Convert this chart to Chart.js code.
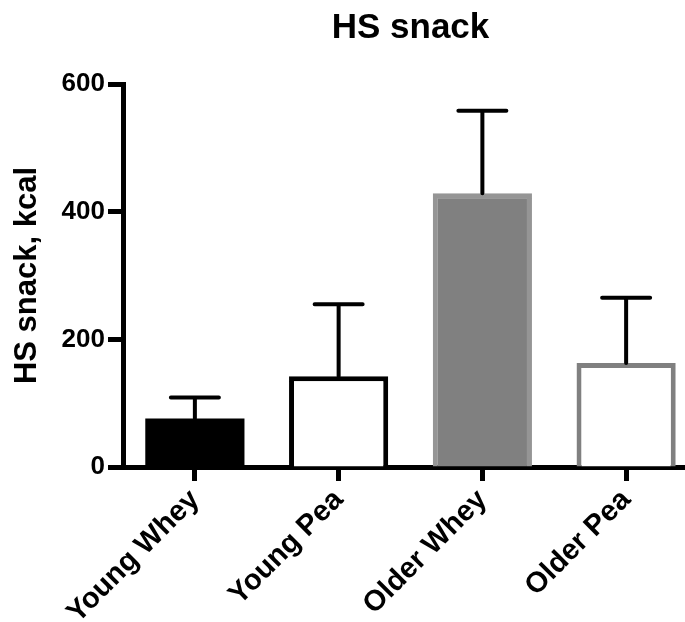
<!DOCTYPE html>
<html>
<head>
<meta charset="utf-8">
<script src="https://cdn.jsdelivr.net/npm/chart.js@4/dist/chart.umd.min.js"></script>
<style>
  html, body { margin: 0; padding: 0; background: #fff; overflow: hidden; }
  #wrap { width: 698px; height: 622px; }
</style>
</head>
<body>
<div id="wrap"><canvas id="chart" width="698" height="622"></canvas></div>
<script>
const categories = ["Young Whey", "Young Pea", "Older Whey", "Older Pea"];
const meanValues = [76, 142, 429, 163];
const semValues = [33, 113, 129, 102];
const yTicks = [0, 200, 400, 600];

const fillColors = ["#000000", "#ffffff", "#808080", "#ffffff"];
const borderColors = ["#000000", "#000000", "#959595", "#808080"];
const borderWidths = [0, 5, 5, 5];

const FONT = "'Liberation Sans', Arial, Helvetica, sans-serif";

// upward-only SEM bars, drawn from the bar top through the y scale
const errorBarPlugin = {
  id: "errorBars",
  afterDatasetsDraw(chart) {
    const meta = chart.getDatasetMeta(0);
    const yScale = chart.scales.y;
    const ctx = chart.ctx;
    ctx.save();
    ctx.strokeStyle = "#000";
    ctx.lineWidth = 4;
    ctx.lineCap = "round";
    meta.data.forEach((bar, i) => {
      const top = yScale.getPixelForValue(meanValues[i] + semValues[i]);
      ctx.beginPath();
      ctx.moveTo(bar.x, bar.y);
      ctx.lineTo(bar.x, top);
      ctx.moveTo(bar.x - 24, top);
      ctx.lineTo(bar.x + 24, top);
      ctx.stroke();
    });
    ctx.restore();
  },
};

const centerTitlePlugin = {
  id: "centerTitle",
  afterDraw(chart) {
    const { ctx, chartArea } = chart;
    ctx.save();
    ctx.font = `bold 35px ${FONT}`;
    ctx.fillStyle = "#000";
    ctx.textAlign = "center";
    ctx.textBaseline = "alphabetic";
    ctx.fillText("HS snack", (chartArea.left + chartArea.right) / 2, 38);
    ctx.restore();
  },
};

new Chart(document.getElementById("chart"), {
  type: "bar",
  data: {
    labels: categories,
    datasets: [
      {
        data: meanValues,
        backgroundColor: fillColors,
        borderColor: borderColors,
        borderWidth: borderWidths,
        borderSkipped: "start",
        barPercentage: 0.69,
        categoryPercentage: 1,
      },
    ],
  },
  options: {
    responsive: false,
    animation: false,
    layout: { padding: { top: 84, left: 0, right: 0, bottom: 0 } },
    plugins: {
      legend: { display: false },
      tooltip: { enabled: false },
      title: { display: false },
    },
    scales: {
      x: {
        grid: {
          display: true,
          drawOnChartArea: false,
          offset: false,
          color: "#000",
          tickLength: 14,
          tickWidth: 5,
        },
        border: { display: true, color: "#000", width: 5 },
        ticks: {
          color: "#000",
          font: { family: FONT, size: 29, weight: "bold" },
          minRotation: 45,
          maxRotation: 45,
          padding: 2,
        },
        afterFit: (axis) => {
          axis.height = 155;
        },
      },
      y: {
        min: 0,
        max: 600,
        afterBuildTicks: (axis) => {
          axis.ticks = yTicks.map((v) => ({ value: v }));
        },
        grid: {
          display: true,
          drawOnChartArea: false,
          color: "#000",
          tickLength: 15,
          tickWidth: 5,
        },
        border: { display: true, color: "#000", width: 5 },
        ticks: {
          color: "#000",
          font: { family: FONT, size: 26, weight: "bold" },
          padding: 3,
        },
        title: {
          display: true,
          text: "HS snack, kcal",
          color: "#000",
          font: { family: FONT, size: 31, weight: "bold" },
          padding: { top: 9, bottom: 0 },
        },
        afterFit: (axis) => {
          axis.width = 123;
        },
      },
    },
  },
  plugins: [errorBarPlugin, centerTitlePlugin],
});
</script>
</body>
</html>
